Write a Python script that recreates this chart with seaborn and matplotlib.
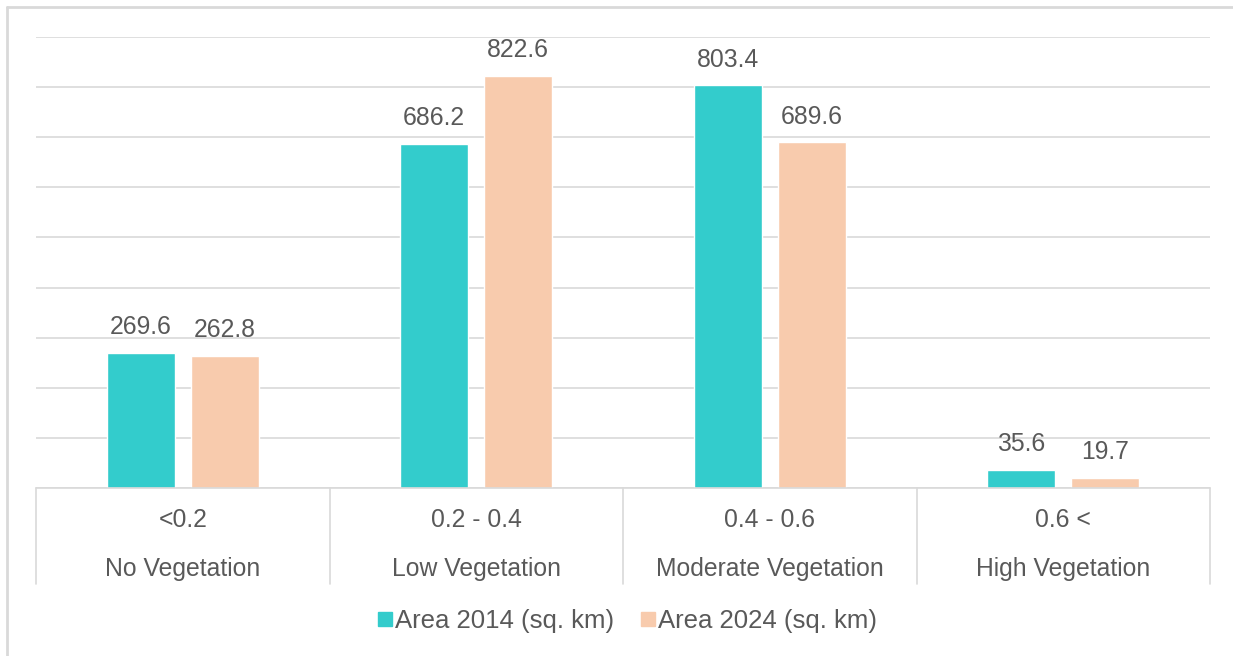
import matplotlib
matplotlib.use("Agg")
import matplotlib.pyplot as plt
from matplotlib.lines import Line2D
import seaborn as sns
import pandas as pd

# NDVI class ranges and their vegetation descriptions
ranges = ["<0.2", "0.2 - 0.4", "0.4 - 0.6", "0.6 <"]
classes = ["No Vegetation", "Low Vegetation", "Moderate Vegetation", "High Vegetation"]
series_names = ["Area 2014 (sq. km)", "Area 2024 (sq. km)"]
area_2014 = [269.6, 686.2, 803.4, 35.6]
area_2024 = [262.8, 822.6, 689.6, 19.7]

colors = ["#33CCCC", "#F8CBAD"]
text_color = "#595959"
grid_color = "#D9D9D9"
fs = 17.8

df = pd.DataFrame({
    "cls": classes * 2,
    "series": [series_names[0]] * 4 + [series_names[1]] * 4,
    "area": area_2014 + area_2024,
})

sns.set_theme(style="white")
plt.rcParams["font.family"] = ["Liberation Sans", "DejaVu Sans"]

W, H = 1233, 656
fig = plt.figure(figsize=(W / 100, H / 100), dpi=100)
ax = fig.add_axes([36 / W, 1 - 488 / H, (1210 - 36) / W, (488 - 37) / H])

sns.barplot(data=df, x="cls", y="area", hue="series", order=classes,
            hue_order=series_names, palette=colors, width=0.572, gap=0.19,
            saturation=1, ax=ax, legend=False)

ax.set_ylim(0, 900)
ax.set_xlim(-0.5, len(classes) - 0.5)
ax.set_yticks(range(0, 901, 100))
ax.yaxis.grid(True, color=grid_color, linewidth=1.2)
ax.set_axisbelow(True)
for s in ax.spines.values():
    s.set_visible(False)
ax.set_xticks([])
ax.set_yticklabels([])
ax.tick_params(left=False, bottom=False)
ax.set_xlabel("")
ax.set_ylabel("")

# value labels above each bar
for cont in ax.containers:
    for bar in cont:
        h = bar.get_height()
        ax.annotate(f"{h:.1f}", (bar.get_x() + bar.get_width() / 2, h),
                    xytext=(0, 10), textcoords="offset points",
                    ha="center", va="bottom", fontsize=fs, color=text_color)

# two-level category axis with separators
trans = ax.get_xaxis_transform()
sep_bottom = -(584 - 488) / (488 - 37)
for i in range(len(classes) + 1):
    ax.plot([i - 0.5, i - 0.5], [0, sep_bottom], transform=trans,
            color=grid_color, linewidth=1.2, clip_on=False)
ax.plot([-0.5, len(classes) - 0.5], [0, 0], transform=trans,
        color=grid_color, linewidth=1.2, clip_on=False)
for i, (r, c) in enumerate(zip(ranges, classes)):
    ax.text(i, -(520 - 488) / (488 - 37), r, transform=trans, ha="center",
            va="center", fontsize=fs, color=text_color)
    ax.text(i, -(569 - 488) / (488 - 37), c, transform=trans, ha="center",
            va="center", fontsize=fs, color=text_color)

# legend below the category axis
handles = [Line2D([], [], marker="s", linestyle="", markersize=10,
                  markerfacecolor=col, markeredgecolor=col) for col in colors]
fig.legend(handles, series_names, loc="center", bbox_to_anchor=(627 / W, 1 - 621 / H),
           ncol=2, frameon=False, fontsize=18.5, labelcolor=text_color,
           handlelength=0.6, handletextpad=0.1, columnspacing=1.0)

# chart area border (left and top edges)
fig.add_artist(Line2D([7 / W, 7 / W], [0, 1 - 7 / H], transform=fig.transFigure,
                      color=grid_color, linewidth=2))
fig.add_artist(Line2D([7 / W, 1], [1 - 7 / H, 1 - 7 / H], transform=fig.transFigure,
                      color=grid_color, linewidth=2))

fig.savefig("out.png", dpi=100, facecolor="white")
